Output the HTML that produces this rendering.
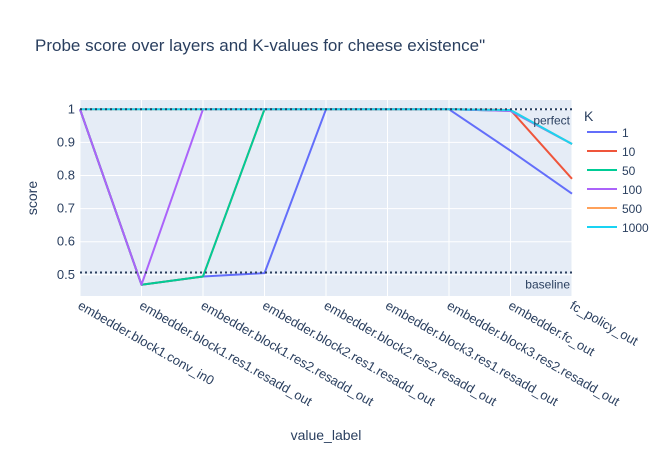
<!DOCTYPE html>
<html><head><meta charset="utf-8"><style>
body{margin:0;background:#fff;}
svg text{font-family:"Liberation Sans",Arial,sans-serif;fill:#2a3f5f;}
</style></head><body>
<svg id="chart" width="670" height="450" xmlns="http://www.w3.org/2000/svg">
<rect x="0" y="0" width="670" height="450" fill="#fff"/>
<text x="35" y="51" font-size="17">Probe score over layers and K-values for cheese existence"</text>
<rect x="80" y="100" width="492" height="196" fill="#e5ecf6"/>
<g id="grid"></g>
<g id="series"></g>
<g id="refs"></g>
<g id="axes"></g>
<text transform="translate(37,198) rotate(-90)" font-size="14" text-anchor="middle">score</text>
<text x="326" y="440" font-size="14" text-anchor="middle">value_label</text>
<g id="legend"></g>
</svg>
<script>
const categories=["embedder.block1.conv_in0","embedder.block1.res1.resadd_out","embedder.block1.res2.resadd_out","embedder.block2.res1.resadd_out","embedder.block2.res2.resadd_out","embedder.block3.res1.resadd_out","embedder.block3.res2.resadd_out","embedder.fc_out","fc_policy_out"];
const seriesNames=["1","10","50","100","500","1000"];
const seriesColors=["#636efa","#EF553B","#00cc96","#ab63fa","#FFA15A","#19d3f3"];
const valuesK1=[1,0.47,0.495,0.505,1,1,1,0.875,0.745];
const valuesK10=[1,0.47,0.495,1,1,1,1,0.998,0.79];
const valuesK50=[1,0.47,0.495,1,1,1,1,0.995,0.895];
const valuesK100=[1,0.47,1,1,1,1,1,0.995,0.895];
const valuesK500=[1,1,1,1,1,1,1,0.998,0.895];
const valuesK1000=[1,1,1,1,1,1,1,0.998,0.895];
const yTicks=[0.5,0.6,0.7,0.8,0.9,1];
const yTickLabels=["0.5","0.6","0.7","0.8","0.9","1"];
const baselineValue=0.507, perfectValue=1;
const allSeries=[valuesK1,valuesK10,valuesK50,valuesK100,valuesK500,valuesK1000];
const NS="http://www.w3.org/2000/svg";
function X(i){return 80+i*(492/(categories.length-1));}
function Y(v){return 109.3+(1-v)*331;}
function mk(t,a,p){const e=document.createElementNS(NS,t);for(const k in a)e.setAttribute(k,a[k]);document.getElementById(p).appendChild(e);return e;}
categories.forEach((c,i)=>{
 const l=mk('line',{x1:X(i),x2:X(i),y1:100,y2:296,stroke:'#fff','stroke-width':1},'grid');
 
 
 const t=mk('text',{x:0,y:0,'font-size':13,transform:`translate(${X(i)-3},${308}) rotate(30)`},'axes');
 t.textContent=c;
 
 
});
yTicks.forEach((v,i)=>{
 const l=mk('line',{x1:80,x2:572,y1:Y(v),y2:Y(v),stroke:'#fff','stroke-width':1},'grid');
 
 
 const t=mk('text',{x:75,y:Y(v)+4,'font-size':13,'text-anchor':'end'},'axes');
 t.textContent=yTickLabels[i];
 
 
});
allSeries.forEach((vals,s)=>{
 const p=mk('polyline',{points:vals.map((v,i)=>X(i)+','+Y(v)).join(' '),fill:'none',stroke:seriesColors[s],'stroke-width':2,'stroke-linejoin':'round'},'series');
 
 
});
[[baselineValue,'baseline'],[perfectValue,'perfect']].forEach(([v,n])=>{
 const l=mk('line',{x1:80,x2:572,y1:Y(v),y2:Y(v),stroke:'#2a3f5f','stroke-width':2,'stroke-dasharray':'2,3'},'refs');
 
 
 const t=mk('text',{x:570,y:n==='perfect'?Y(v)+15:Y(v)+16,'font-size':12,'text-anchor':'end'},'refs');
 t.textContent=n;
 
 
});
const lt=mk('text',{x:584,y:121,'font-size':14},'legend');
lt.textContent='K';


seriesNames.forEach((n,s)=>{
 const y=132+s*19;
 const g=mk('g',{},'legend');
 
 
 const l=document.createElementNS(NS,'line');
 l.setAttribute('x1',587);l.setAttribute('x2',617);l.setAttribute('y1',y);l.setAttribute('y2',y);
 l.setAttribute('stroke',seriesColors[s]);l.setAttribute('stroke-width',2);
 
 
 g.appendChild(l);
 const t=document.createElementNS(NS,'text');
 t.setAttribute('x',622);t.setAttribute('y',y+5);t.setAttribute('font-size',12);
 t.textContent=n;
 
 
 g.appendChild(t);
});
</script>
</body></html>
